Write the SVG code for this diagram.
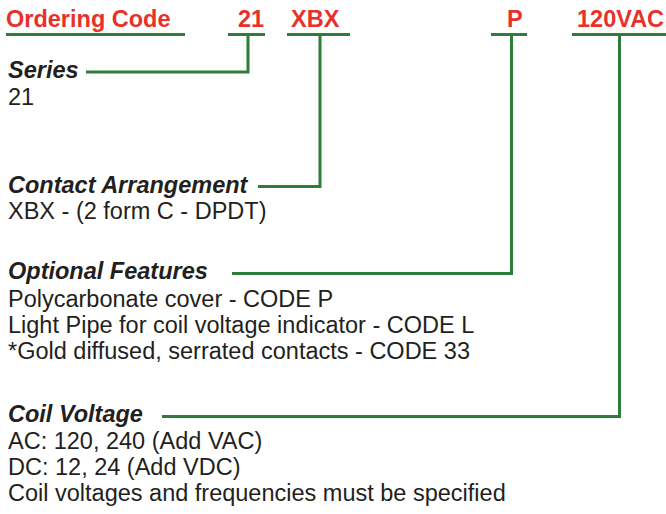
<svg xmlns="http://www.w3.org/2000/svg" width="666" height="514" viewBox="0 0 666 514">
<style>
.code{font-family:"Liberation Sans",Arial,sans-serif;font-weight:bold;font-size:23.5px;fill:#E8312B}
.head{font-family:"Liberation Sans",Arial,sans-serif;font-weight:bold;font-style:italic;font-size:23.5px;fill:#231F20}
.body{font-family:"Liberation Sans",Arial,sans-serif;font-size:23.5px;fill:#231F20}
.ln{fill:none;stroke:#2E7D3A;stroke-width:3}
</style>
<rect width="666" height="514" fill="#fff"/>
<g id="header">
<text class="code" x="6" y="27">Ordering Code</text>
<text class="code" x="238" y="27">21</text>
<text class="code" x="291" y="27">XBX</text>
<text class="code" x="507" y="27">P</text>
<text class="code" x="577" y="27">120VAC</text>
</g>
<g id="series">
<text class="head" x="8" y="78">Series</text>
<text class="body" x="8" y="105">21</text>
</g>
<g id="contact">
<text class="head" x="8" y="193">Contact Arrangement</text>
<text class="body" x="8" y="219">XBX - (2 form C - DPDT)</text>
</g>
<g id="optional">
<text class="head" x="8" y="279">Optional Features</text>
<text class="body" x="8" y="307">Polycarbonate cover - CODE P</text>
<text class="body" x="8" y="333">Light Pipe for coil voltage indicator - CODE L</text>
<text class="body" x="8" y="359">*Gold diffused, serrated contacts - CODE 33</text>
</g>
<g id="coil">
<text class="head" x="8" y="422">Coil Voltage</text>
<text class="body" x="8" y="449">AC: 120, 240 (Add VAC)</text>
<text class="body" x="8" y="475">DC: 12, 24 (Add VDC)</text>
<text class="body" x="8" y="501">Coil voltages and frequencies must be specified</text>
</g>
<g id="connectors">
<line class="ln" x1="6" y1="34.5" x2="185" y2="34.5"/>
<line class="ln" x1="228" y1="34.5" x2="265" y2="34.5"/>
<line class="ln" x1="287" y1="34.5" x2="350" y2="34.5"/>
<line class="ln" x1="491" y1="34.5" x2="527" y2="34.5"/>
<line class="ln" x1="572" y1="34.5" x2="666" y2="34.5"/>
<polyline class="ln" points="248,34.5 248,72 86,72"/>
<polyline class="ln" points="320,34.5 320,186.5 258,186.5"/>
<polyline class="ln" points="511.5,34.5 511.5,273.5 232,273.5"/>
<polyline class="ln" points="619.5,34.5 619.5,416.5 162,416.5"/>
</g>
</svg>
